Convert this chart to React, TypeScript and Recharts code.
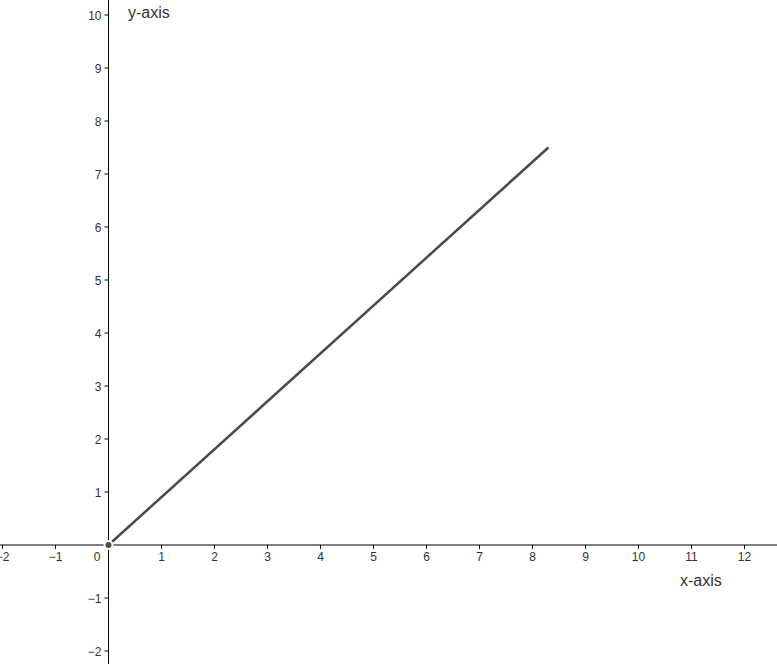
import * as React from 'react'
import { LineChart, Line, XAxis, YAxis, ReferenceLine, ReferenceDot } from 'recharts'

// segment from the origin
const lineX = [0, 8.3]
const lineY = [0, 7.5]

const xTicks = [-2, -1, 1, 2, 3, 4, 5, 6, 7, 8, 9, 10, 11, 12]
const yTicks = [-2, -1, 1, 2, 3, 4, 5, 6, 7, 8, 9, 10]

const xDomain = [-2.047, 12.613]
const yDomain = [-2.245, 10.283]

const data = lineX.map((x, i) => ({ x, y: lineY[i] }))

const FONT = '"Liberation Sans", Arial, sans-serif'
const fmt = (v: number) => (v < 0 ? '\u2212' + Math.abs(v) : String(v))

const XTick = ({ cx, cy, value }: any) => (
  <g>
    <line x1={cx} y1={cy} x2={cx} y2={cy + 4} stroke="#000" strokeWidth={1} />
    <text x={cx} y={cy + 16} textAnchor="middle" fontSize={12} fill="#333" fontFamily={FONT}>
      {fmt(value)}
    </text>
  </g>
)

const YTick = ({ cx, cy, value }: any) => (
  <g>
    <line x1={cx - 4} y1={cy} x2={cx} y2={cy} stroke="#000" strokeWidth={1} />
    <text x={cx - 7} y={cy + 5} textAnchor="end" fontSize={12} fill="#333" fontFamily={FONT}>
      {fmt(value)}
    </text>
  </g>
)

// "0" sits left of and below the origin
const originLabel = (props: any) => {
  const { viewBox } = props
  return (
    <text x={viewBox.x - 8} y={viewBox.y + 16} textAnchor="end" fontSize={12} fill="#333" fontFamily={FONT}>
      0
    </text>
  )
}

export default function App() {
  return (
    <div style={{ position: 'absolute', left: 0, top: 0, width: 777, height: 664, background: '#fff' }}>
      <LineChart width={777} height={664} data={data} margin={{ top: 0, right: 0, bottom: 0, left: 0 }}>
        <XAxis dataKey="x" type="number" domain={xDomain} allowDataOverflow hide />
        <YAxis type="number" domain={yDomain} allowDataOverflow hide />
        <ReferenceLine y={0} stroke="#000" strokeWidth={1} />
        <ReferenceLine x={0} stroke="#000" strokeWidth={1} />
        {xTicks.map((t) => (
          <ReferenceDot key={'x' + t} x={t} y={0} shape={(p: any) => <XTick {...p} value={t} />} />
        ))}
        {yTicks.map((t) => (
          <ReferenceDot key={'y' + t} x={0} y={t} shape={(p: any) => <YTick {...p} value={t} />} />
        ))}
        <ReferenceLine
          segment={[{ x: 0, y: 0 }, { x: 0, y: 0 }]}
          stroke="none"
          label={originLabel}
        />
        <Line
          dataKey="y"
          stroke="#4a4a4a"
          strokeWidth={2.5}
          dot={false}
          isAnimationActive={false}
        />
      </LineChart>
      <div style={{ position: 'absolute', left: 128, top: 4, fontSize: 16, color: '#333', fontFamily: FONT }}>
        y-axis
      </div>
      <div style={{ position: 'absolute', left: 680, top: 572, fontSize: 16, color: '#333', fontFamily: FONT }}>
        x-axis
      </div>
    </div>
  )
}
